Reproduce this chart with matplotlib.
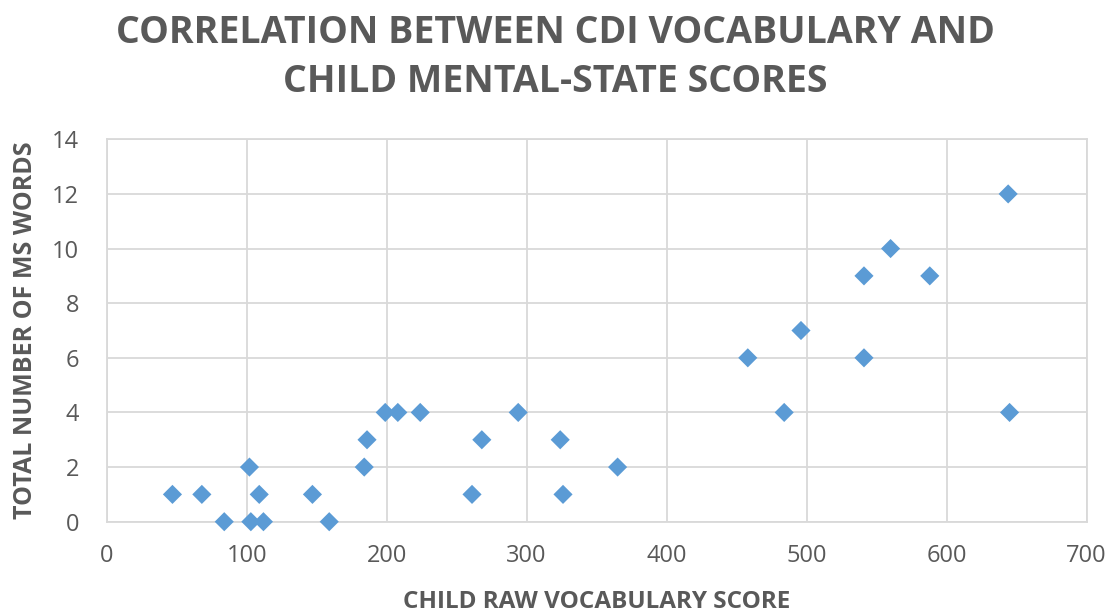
import matplotlib
matplotlib.use('Agg')
import matplotlib.pyplot as plt

# CDI raw vocabulary vs. total mental-state words
vocab = [47, 68, 84, 102, 103, 109, 112, 147, 159, 184, 186, 199, 208, 224,
         261, 268, 294, 324, 326, 365,
         458, 484, 496, 541, 541, 560, 588, 644, 645]
ms_words = [1, 1, 0, 2, 0, 1, 0, 1, 0, 2, 3, 4, 4, 4,
            1, 3, 4, 3, 1, 2,
            6, 4, 7, 9, 6, 10, 9, 12, 4]

x_ticks = [0, 100, 200, 300, 400, 500, 600, 700]
y_ticks = [0, 2, 4, 6, 8, 10, 12, 14]

TXT = '#595959'
GRID = '#D9D9D9'
plt.rcParams['font.family'] = ['Open Sans', 'DejaVu Sans']

fig = plt.figure(figsize=(11.11, 6.15), dpi=100)
ax = fig.add_axes([0.096, 0.1517, 0.882, 0.6218])

ax.scatter(vocab, ms_words, marker='D', s=95, color='#5B9BD5',
           edgecolors='none', zorder=3, clip_on=False)

ax.set_xlim(0, 700)
ax.set_ylim(0, 14)
ax.set_xticks(x_ticks)
ax.set_yticks(y_ticks)
ax.grid(True, color=GRID, linewidth=1.3, zorder=0)
for s in ax.spines.values():
    s.set_color(GRID)
    s.set_linewidth(1.3)
ax.tick_params(length=0, labelsize=17, colors=TXT)
ax.tick_params(axis='y', pad=20)
ax.tick_params(axis='x', pad=16)

ax.set_xlabel('CHILD RAW VOCABULARY SCORE', fontsize=17.5, fontweight='bold',
              color=TXT, labelpad=16)
ax.set_ylabel('TOTAL NUMBER OF MS WORDS', fontsize=18, fontweight='bold',
              color=TXT, labelpad=10)

fig.text(0.50, 0.907, 'CORRELATION BETWEEN CDI VOCABULARY AND\nCHILD MENTAL-STATE SCORES',
         ha='center', va='center', fontsize=27, fontweight='bold', color=TXT,
         linespacing=1.38)

plt.savefig('out.png', dpi=100, facecolor='white')
